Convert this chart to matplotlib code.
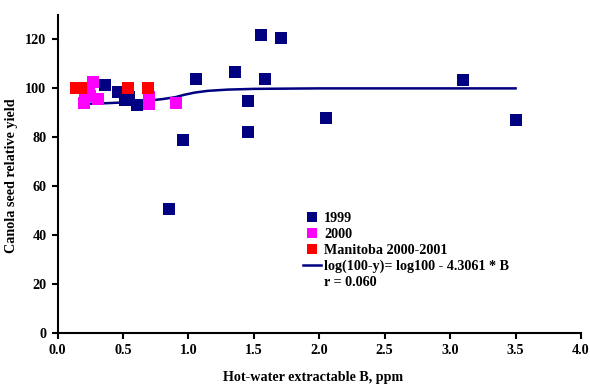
import matplotlib
matplotlib.use("Agg")
import matplotlib.pyplot as plt
from matplotlib.lines import Line2D

plt.rcParams['font.family'] = ['Liberation Serif', 'DejaVu Serif']
plt.rcParams['font.weight'] = 'bold'

# 1999 data
b1999 = [0.36, 0.46, 0.515, 0.55, 0.61, 0.85, 0.956, 1.057, 1.355, 1.457, 1.457, 1.556, 1.586, 1.706, 2.055, 3.098, 3.505]
y1999 = [101.2, 98.5, 95.1, 96.5, 93.3, 50.5, 79.0, 103.7, 106.7, 94.8, 82.0, 121.9, 103.7, 120.5, 88.0, 103.5, 87.0]

# 2000 data
b2000 = [0.20, 0.21, 0.24, 0.27, 0.25, 0.31, 0.70, 0.70, 0.905]
y2000 = [94.2, 97.0, 99.5, 102.6, 97.0, 95.6, 96.5, 93.7, 94.0]

# Manitoba 2000-2001
bman = [0.14, 0.18, 0.54, 0.69]
yman = [100.1, 100.1, 100.1, 100.1]

# fitted curve
fit_b = [0.20, 0.40, 0.60, 0.80, 0.90, 0.97, 1.05, 1.15, 1.30, 1.50, 2.00, 3.50]
fit_y = [93.6, 94.0, 94.5, 95.6, 96.4, 97.4, 98.3, 99.0, 99.5, 99.8, 100.0, 100.0]

labels = ['1999', '2000', 'Manitoba 2000-2001', 'log(100-y)= log100 - 4.3061 * B', 'r = 0.060']
xticks = [0.0, 0.5, 1.0, 1.5, 2.0, 2.5, 3.0, 3.5, 4.0]
yticks = [0, 20, 40, 60, 80, 100, 120]

navy = '#000080'
mag = '#FF00FF'
red = '#FF0000'
fs = 10.2

fig = plt.figure(figsize=(5.9, 3.86), dpi=100)
ax = fig.add_axes([57.5/590, 1-333/386, (581-57.5)/590, (333-15)/386])

ax.plot(fit_b, fit_y, color=navy, lw=1.8, zorder=2)
ms = 8.0
ax.plot(b1999, y1999, 's', color=navy, ms=ms, mew=0, zorder=3)
ax.plot(b2000, y2000, 's', color=mag, ms=ms, mew=0, zorder=4)
ax.plot(bman, yman, 's', color=red, ms=ms, mew=0, zorder=5)

ax.set_xlim(0, 4.0)
ax.set_ylim(0, 130)
ax.set_xticks(xticks)
ax.set_xticklabels([f'{v:.1f}' for v in xticks])
ax.set_yticks(yticks)
ax.set_yticklabels([str(v) for v in yticks])
for s in ['top', 'right']:
    ax.spines[s].set_visible(False)
for s in ['left', 'bottom']:
    ax.spines[s].set_linewidth(1.5)
    ax.spines[s].set_color('black')
ax.tick_params(axis='both', direction='out', length=4, width=1.5, labelsize=fs, pad=4)
for lbl in ax.get_xticklabels() + ax.get_yticklabels():
    lbl.set_fontweight('bold')

ax.set_xlabel('Hot-water extractable B, ppm', fontsize=fs, fontweight='bold')
ax.set_ylabel('Canola seed relative yield', fontsize=fs, fontweight='bold')
ax.xaxis.set_label_coords(0.489, -0.1195)
ax.yaxis.set_label_coords(-0.0755, 0.495)

handles = [
    Line2D([], [], marker='s', ls='none', color=navy, ms=6.8, mew=0),
    Line2D([], [], marker='s', ls='none', color=mag, ms=6.8, mew=0),
    Line2D([], [], marker='s', ls='none', color=red, ms=6.8, mew=0),
    Line2D([], [], color=navy, lw=1.8),
    Line2D([], [], color='none'),
]
leg = ax.legend(handles, labels, loc='upper left', bbox_to_anchor=(293/590, 1-202/386),
                bbox_transform=fig.transFigure, frameon=False, fontsize=fs,
                handlelength=1.3, handletextpad=0.2, labelspacing=0.2, borderpad=0.2)
for t in leg.get_texts():
    t.set_fontweight('bold')

fig.savefig('out.png', dpi=100)
